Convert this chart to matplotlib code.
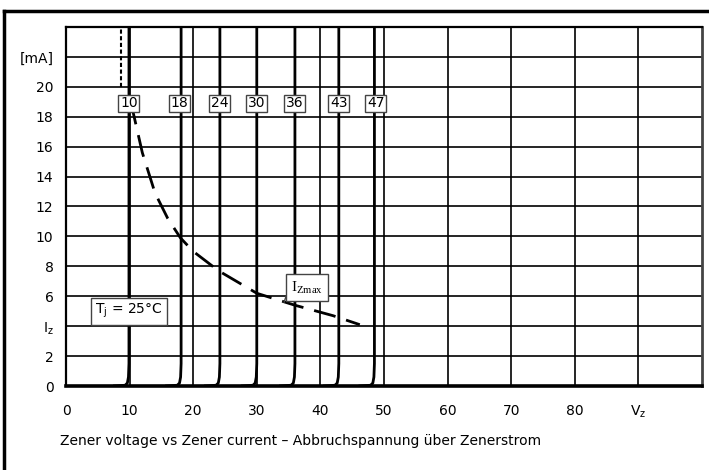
import numpy as np
import matplotlib.pyplot as plt
from matplotlib.lines import Line2D

# zener curves: breakdown voltage where the curve goes vertical, and box labels
zener_names = ["10", "18", "24", "30", "36", "43", "47"]
zener_vz = [9.9, 18.1, 24.2, 30.0, 36.0, 42.9, 48.5]
label_x = [9.9, 17.8, 24.1, 30.0, 36.0, 42.9, 48.7]
label_y = 18.9

# knee shape offsets (relative to vz) and current
knee_dv = [-2.5, -0.6, -0.25, -0.08, 0.0, 0.0]
knee_i = [0.0, 0.05, 0.2, 0.6, 1.5, 24.0]

# max zener current curve
izmax_v = [10.5, 12.0, 14.0, 16.0, 18.0, 20.0, 24.0, 30.0, 36.0, 42.0, 46.2]
izmax_i = [18.4, 15.6, 12.9, 11.2, 9.9, 9.0, 7.7, 6.2, 5.4, 4.7, 4.1]

xticks = [0, 10, 20, 30, 40, 50, 60, 70, 80, 90]
xlabels = ["0", "10", "20", "30", "40", "50", "60", "70", "80", r"V$_\mathregular{z}$"]
yticks = [0, 2, 4, 6, 8, 10, 12, 14, 16, 18, 20, 22]
ylabels = ["0", "2", r"I$_\mathregular{z}$", "6", "8", "10", "12", "14", "16", "18", "20", "[mA]"]

plt.rcParams['font.family'] = ['DejaVu Sans']
fig = plt.figure(figsize=(7.09, 4.70), dpi=100)
ax = fig.add_axes([0.0931, 0.1787, 0.8969, 0.7639])

ax.set_xlim(0, 100)
ax.set_ylim(0, 24)
ax.set_xticks(xticks)
ax.set_xticklabels(xlabels, fontsize=10)
ax.set_yticks(yticks)
ax.set_yticklabels(ylabels, fontsize=10)
ax.tick_params(length=0, pad=9)
ax.tick_params(axis='x', pad=13)

# grid
for x in range(10, 100, 10):
    ax.axvline(x, color='black', lw=1.2, zorder=1)
for y in range(2, 24, 2):
    ax.axhline(y, color='black', lw=1.2, zorder=1)

for s in ['left', 'top']:
    ax.spines[s].set_linewidth(1.6)
ax.spines['right'].set_linewidth(2.0)
ax.spines['right'].set_color('#444444')
ax.spines['bottom'].set_linewidth(2.6)

# zener curves
for vz in zener_vz:
    ax.plot([vz + d for d in knee_dv], knee_i, color='black', lw=2.0,
            solid_capstyle='butt', zorder=3)

# dotted continuation above the 10V curve
ax.plot([8.6, 8.6], [20, 24], color='black', lw=1.5, ls=(0, (2, 1.2)), zorder=3)

# Izmax dashed curve
ax.plot(izmax_v, izmax_i, color='black', lw=2.0, ls=(3, (8, 4)), zorder=3)

# labels in boxes
for name, lx in zip(zener_names, label_x):
    ax.text(lx, label_y, name, fontsize=10, ha='center', va='center', zorder=5,
            bbox=dict(boxstyle='square,pad=0.12', fc='white', ec='#444444', lw=1.0))

ax.text(9.9, 5.0, r"T$_\mathregular{j}$ = 25°C", fontsize=10, ha='center', va='center', zorder=5,
        bbox=dict(boxstyle='square,pad=0.3', fc='white', ec='#444444', lw=1.0))

ax.plot([34.6, 34.3], [6.0, 5.6], color='#444444', lw=1.0, zorder=4)
ax.text(37.9, 6.6, r"I$_\mathregular{Zmax}$", fontsize=11, family='Liberation Serif',
        ha='center', va='center', zorder=5,
        bbox=dict(boxstyle='square,pad=0.35', fc='white', ec='#444444', lw=1.0))

# caption
fig.text(60 / 709, 1 - 441 / 470, "Zener voltage vs Zener current \u2013 Abbruchspannung \u00fcber Zenerstrom",
         fontsize=10, ha='left', va='center')

# outer frame (left and top)
fig.add_artist(Line2D([4 / 709, 4 / 709], [0, 1 - 11 / 470], color='black', lw=2.5,
                      transform=fig.transFigure))
fig.add_artist(Line2D([4 / 709, 1], [1 - 11 / 470, 1 - 11 / 470], color='black', lw=2.5,
                      transform=fig.transFigure))

fig.savefig("out.png", dpi=100)
